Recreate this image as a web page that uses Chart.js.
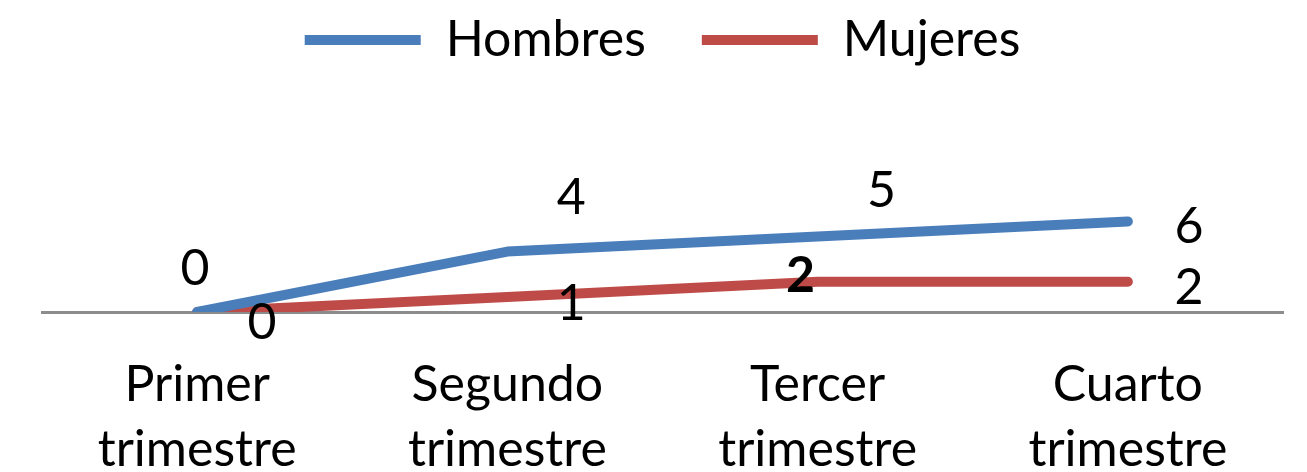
<!DOCTYPE html>
<html>
<head>
<meta charset="utf-8">
<script src="https://cdn.jsdelivr.net/npm/chart.js@4.4.1/dist/chart.umd.min.js"></script>
<style>
  html, body { margin: 0; padding: 0; background: #fff; }
  #wrap { width: 1307px; height: 472px; }
</style>
</head>
<body>
<div id="wrap"><canvas id="myChart"></canvas></div>
<script>
// data
const categories = [['Primer', 'trimestre'], ['Segundo', 'trimestre'], ['Tercer', 'trimestre'], ['Cuarto', 'trimestre']];
const hombres = [0, 4, 5, 6];
const mujeres = [0, 1, 2, 2];

// where each data label sits relative to its point (px), like the Excel manual placement
const hombresLabelOffset = [[-2, -43], [64, -54], [64, -46], [61, 5]];
const mujeresLabelOffset = [[65, 11], [64, 7], [-17, -6], [61, 6]];
const mujeresLabelBold = [false, false, true, false];

const FONT = 'Lato, "Open Sans", sans-serif';
const FSIZE = 50;

// draws the value labels next to the points
const valueLabels = {
  id: 'valueLabels',
  afterDatasetsDraw(chart) {
    const ctx = chart.ctx;
    const offsets = [hombresLabelOffset, mujeresLabelOffset];
    ctx.save();
    ctx.textAlign = 'center';
    ctx.textBaseline = 'middle';
    ctx.fillStyle = '#000';
    chart.data.datasets.forEach((ds, i) => {
      chart.getDatasetMeta(i).data.forEach((pt, j) => {
        let bold = i == 1 && mujeresLabelBold[j];
        ctx.font = (bold ? 'bold ' : '') + FSIZE + 'px ' + FONT;
        ctx.fillText(ds.data[j], pt.x + offsets[i][j][0], pt.y + offsets[i][j][1]);
      });
    });
    ctx.restore();
  }
};

let ctx = document.getElementById('myChart').getContext('2d');
let myChart = new Chart(ctx, {
  type: 'line',
  data: {
    labels: categories,
    datasets: [{
      label: 'Hombres',
      data: hombres,
      borderColor: '#4a7ebb',
      backgroundColor: '#4a7ebb',
      borderWidth: 10,
      borderCapStyle: 'round',
      borderJoinStyle: 'round',
      pointRadius: 0,
      tension: 0
    }, {
      label: 'Mujeres',
      data: mujeres,
      borderColor: '#be4b48',
      backgroundColor: '#be4b48',
      borderWidth: 10,
      borderCapStyle: 'round',
      borderJoinStyle: 'round',
      pointRadius: 0,
      tension: 0
    }]
  },
  options: {
    responsive: true,
    maintainAspectRatio: false,
    animation: false,
    layout: { padding: { top: -41, left: 42, right: 24, bottom: -50 } },
    plugins: {
      tooltip: { enabled: false },
      legend: {
        position: 'top',
        labels: {
          usePointStyle: true,
          pointStyle: 'line',
          pointStyleWidth: 116,
          padding: 56,
          color: '#000',
          font: { family: FONT, size: FSIZE }
        }
      }
    },
    scales: {
      x: {
        offset: true,
        grid: { display: false, drawTicks: false },
        border: { display: true, color: '#8c8c8c', width: 3 },
        ticks: {
          color: '#000',
          padding: 40,
          maxRotation: 0,
          autoSkip: false,
          font: { family: FONT, size: FSIZE, lineHeight: 1.3 }
        }
      },
      y: {
        display: false,
        min: 0,
        max: 15.7
      }
    }
  },
  plugins: [valueLabels]
});
</script>
</body>
</html>
